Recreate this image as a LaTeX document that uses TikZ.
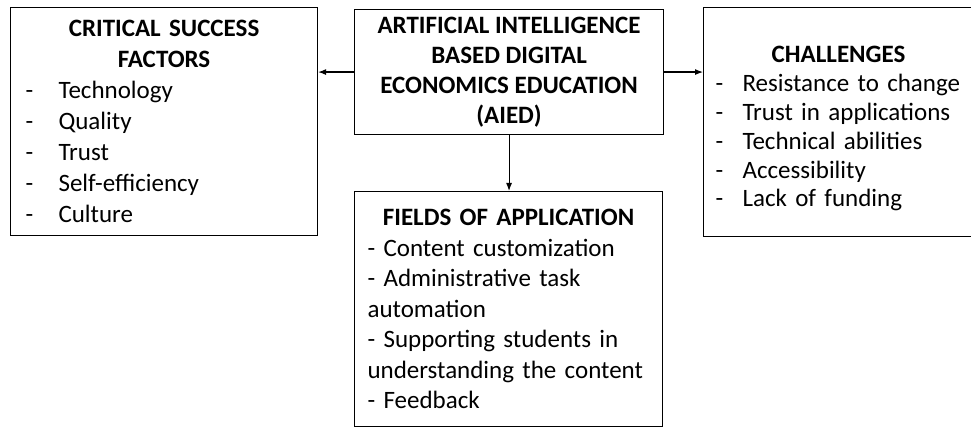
\documentclass[tikz,border=0pt]{standalone}
\usepackage{fontspec}
\setmainfont{Carlito}
\usetikzlibrary{arrows.meta,positioning}

% indent, dash width, item text
\newcommand\dashitem[3]{\hspace*{#1}\makebox[#2][l]{-}#3}

\begin{document}
\begin{tikzpicture}[x=1pt,y=-1pt,
    box/.style={draw,line width=1.1pt,inner sep=0pt,anchor=north west,align=left,
      font=\fontsize{25}{30.5}\selectfont},
    >={Latex[length=8pt,width=6pt]}]
   \useasboundingbox (0,0) rectangle (971,427);
   \clip (0,0) rectangle (971,427);

   \node[box,minimum width=309pt,minimum height=125pt,align=center,
     font=\fontsize{25}{30}\selectfont\bfseries] (aied) at (354,9)
     {ARTIFICIAL INTELLIGENCE\\BASED DIGITAL\\ECONOMICS EDUCATION\\(AIED)};

   \node[box,text width=307pt,minimum height=228pt,
     font=\fontsize{25}{31}\selectfont] (csf) at (10,7) {%
     \makebox[\linewidth]{\bfseries CRITICAL SUCCESS}\\
     \makebox[\linewidth]{\bfseries FACTORS}\\
     \dashitem{15pt}{33pt}{Technology}\\
     \dashitem{15pt}{33pt}{Quality}\\
     \dashitem{15pt}{33pt}{Trust}\\
     \dashitem{15pt}{33pt}{Self-efficiency}\\
     \dashitem{15pt}{33pt}{Culture}};

   \node[box,text width=300pt,minimum height=229pt,
     font=\fontsize{25}{28.8}\selectfont] (chal) at (703,7) {%
     \rule{0pt}{30pt}\makebox[270pt]{\bfseries CHALLENGES}\\
     \dashitem{12pt}{27pt}{Resistance to change}\\
     \dashitem{12pt}{27pt}{Trust in applications}\\
     \dashitem{12pt}{27pt}{Technical abilities}\\
     \dashitem{12pt}{27pt}{Accessibility}\\
     \dashitem{12pt}{27pt}{Lack of funding}};

   \node[box,text width=308pt,minimum height=235pt] (fields) at (354,191) {%
     \makebox[\linewidth]{\bfseries FIELDS OF APPLICATION}\\
     \hspace*{13pt}- Content customization\\
     \hspace*{13pt}- Administrative task\\
     \hspace*{13pt}automation\\
     \hspace*{13pt}- Supporting students in\\
     \hspace*{13pt}understanding the content\\
     \hspace*{13pt}- Feedback};

    \path[->,line width=1.1pt]
    (aied.west) edge (aied.west -| csf.east)
    (aied.east) edge (aied.east -| chal.west)
    (aied.south) edge (aied.south |- fields.north);
\end{tikzpicture}
\end{document}
